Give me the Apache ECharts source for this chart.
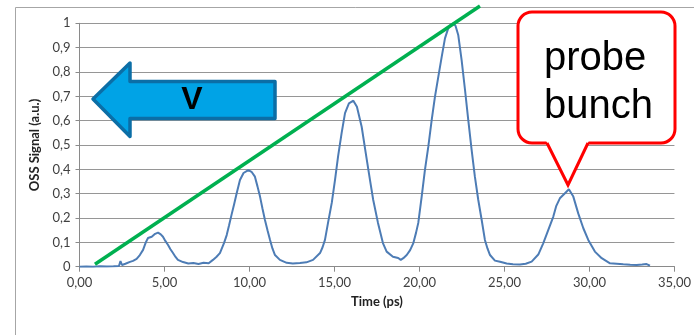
<!DOCTYPE html>
<html>
<head>
<meta charset="utf-8">
<script src="https://cdn.jsdelivr.net/npm/echarts@6/dist/echarts.min.js"></script>
<style>
  html, body { margin: 0; padding: 0; background: #fff; }
  #chart { width: 694px; height: 335px; }
</style>
</head>
<body>
<div id="chart"></div>
<script>
// OSS signal vs time
const timePs = [
  0.00, 0.40, 0.80, 1.20, 1.60, 2.00, 2.32, 2.41, 2.50, 2.70, 2.97, 3.15, 3.36, 3.55, 3.74, 3.90,
  4.03, 4.25, 4.45, 4.62, 4.78, 4.91, 5.05, 5.21, 5.35, 5.50, 5.65, 5.79, 6.09, 6.40, 6.70, 7.00,
  7.30, 7.60, 7.85, 8.05, 8.26, 8.50, 8.66, 8.80, 8.95, 9.10, 9.25, 9.44, 9.65, 9.93, 10.12, 10.32,
  10.47, 10.62, 10.76, 10.91, 11.06, 11.21, 11.35, 11.50, 11.79, 12.19, 12.55, 12.97, 13.35, 13.74,
  14.15, 14.30, 14.44, 14.62, 14.84, 15.03, 15.21, 15.42, 15.62, 15.85, 16.11, 16.32, 16.60, 16.84,
  17.09, 17.28, 17.56, 17.85, 18.07, 18.44, 18.75, 18.90, 19.05, 19.25, 19.45, 19.64, 19.80, 19.93,
  20.13, 20.32, 20.52, 20.72, 20.91, 21.11, 21.31, 21.50, 21.69, 21.85, 21.99, 22.12, 22.28, 22.48,
  22.68, 22.87, 23.07, 23.26, 23.46, 23.66, 23.85, 24.00, 24.15, 24.44, 24.74, 25.13, 25.50, 25.91,
  26.25, 26.60, 26.99, 27.28, 27.58, 27.87, 28.05, 28.26, 28.56, 28.79, 29.05, 29.34, 29.64, 29.93,
  30.32, 30.72, 31.21, 31.60, 31.99, 32.40, 32.78, 33.10, 33.36, 33.56
]
const ossSignal = [
  0.000, 0.001, 0.000, 0.002, 0.001, 0.002, 0.003, 0.023, 0.007, 0.012, 0.020, 0.024, 0.032, 0.048, 0.069, 0.100,
  0.118, 0.123, 0.135, 0.140, 0.133, 0.123, 0.106, 0.089, 0.072, 0.056, 0.040, 0.028, 0.019, 0.013, 0.015, 0.011,
  0.016, 0.014, 0.028, 0.040, 0.056, 0.097, 0.130, 0.170, 0.215, 0.258, 0.303, 0.356, 0.385, 0.397, 0.390, 0.370,
  0.330, 0.288, 0.240, 0.192, 0.150, 0.110, 0.075, 0.048, 0.028, 0.016, 0.013, 0.015, 0.018, 0.028,
  0.056, 0.080, 0.110, 0.180, 0.262, 0.356, 0.452, 0.549, 0.631, 0.671, 0.682, 0.657, 0.575, 0.467,
  0.356, 0.274, 0.180, 0.097, 0.062, 0.041, 0.036, 0.028, 0.035, 0.048, 0.068, 0.097, 0.140, 0.180,
  0.288, 0.397, 0.493, 0.603, 0.698, 0.781, 0.863, 0.938, 0.979, 0.995, 1.000, 0.990, 0.952, 0.849,
  0.726, 0.603, 0.479, 0.370, 0.274, 0.192, 0.110, 0.075, 0.048, 0.025, 0.020, 0.013, 0.010, 0.009,
  0.012, 0.021, 0.050, 0.096, 0.151, 0.205, 0.250, 0.281, 0.302, 0.318, 0.288, 0.219, 0.158, 0.110,
  0.062, 0.035, 0.014, 0.012, 0.010, 0.008, 0.007, 0.009, 0.011, 0.004
]
// green envelope line
const trendTime = [0.91, 23.56]
const trendSignal = [0.01, 1.071]

const yTickLabels = ['0', '0,1', '0,2', '0,3', '0,4', '0,5', '0,6', '0,7', '0,8', '0,9', '1']
const xTickLabels = ['0,00', '5,00', '10,00', '15,00', '20,00', '25,00', '30,00', '35,00']

const chart = echarts.init(document.getElementById('chart'))

const labelFont = { fontFamily: 'Lato', fontSize: 13, color: '#404040' }

chart.setOption({
  animation: false,
  grid: { left: 79.5, right: 19.5, top: 23.3, bottom: 68.3 },
  xAxis: {
    type: 'value',
    min: 0,
    max: 35,
    interval: 5,
    name: 'Time (ps)',
    nameLocation: 'middle',
    nameGap: 29,
    nameTextStyle: { fontFamily: 'Lato', fontSize: 13, fontWeight: 'bold', color: '#222' },
    axisLine: { show: true, lineStyle: { color: '#8a8a8a', width: 1 } },
    axisTick: { show: true, length: 5, lineStyle: { color: '#8a8a8a' } },
    axisLabel: Object.assign({ margin: 10, formatter: v => xTickLabels[Math.round(v / 5)] }, labelFont),
    splitLine: { show: false }
  },
  yAxis: {
    type: 'value',
    min: 0,
    max: 1,
    interval: 0.1,
    name: 'OSS Signal (a.u.)',
    nameLocation: 'middle',
    nameGap: 38,
    nameTextStyle: { fontFamily: 'Lato', fontSize: 13, fontWeight: 'bold', color: '#222' },
    axisLine: { show: true, lineStyle: { color: '#8a8a8a', width: 1 } },
    axisTick: { show: true, length: 4, lineStyle: { color: '#8a8a8a' } },
    axisLabel: Object.assign({ margin: 9, formatter: v => yTickLabels[Math.round(v * 10)] }, labelFont),
    splitLine: { show: true, lineStyle: { color: '#969696', width: 1 } }
  },
  series: [
    {
      name: 'OSS',
      type: 'line',
      data: timePs.map((t, i) => [t, ossSignal[i]]),
      showSymbol: false,
      lineStyle: { color: '#4d7cb5', width: 2 },
      z: 3
    },
    {
      name: 'trend',
      type: 'line',
      clip: false,
      data: trendTime.map((t, i) => [t, trendSignal[i]]),
      showSymbol: false,
      lineStyle: { color: '#00b050', width: 3.5 },
      z: 4
    }
  ],
  graphic: [
    // chart frame
    {
      type: 'rect',
      shape: { x: 15.5, y: 7.5, width: 700, height: 340 },
      style: { fill: 'none', stroke: '#a6a6a6', lineWidth: 1 },
      z: 0
    },
    // left arrow "V"
    {
      type: 'polygon',
      shape: {
        points: [[93, 99], [130, 63], [130, 81.5], [275, 81.5], [275, 118.5], [130, 118.5], [130, 136.5]]
      },
      style: { fill: '#00a3e6', stroke: '#0b6ea6', lineWidth: 3.5, lineJoin: 'round' },
      z: 10
    },
    {
      type: 'text',
      style: {
        x: 192, y: 100, text: 'V', textAlign: 'center', textVerticalAlign: 'middle',
        font: 'bold 32px "Liberation Sans", Arial', fill: '#000'
      },
      z: 11
    },
    // callout box
    {
      type: 'rect',
      shape: { x: 518, y: 12, width: 157, height: 131, r: 14 },
      style: { fill: '#fff', stroke: '#ff0000', lineWidth: 3 },
      z: 10
    },
    {
      type: 'polygon',
      shape: { points: [[546, 140.5], [568, 185], [589, 140.5]] },
      style: { fill: '#fff' },
      z: 11
    },
    {
      type: 'polyline',
      shape: { points: [[547, 143], [568, 185], [588, 143]] },
      style: { fill: null, stroke: '#ff0000', lineWidth: 3, lineJoin: 'miter' },
      z: 12
    },
    {
      type: 'text',
      style: {
        x: 544, y: 59, text: 'probe', textAlign: 'left', textVerticalAlign: 'middle',
        font: '40px "Liberation Sans", Arial', fill: '#000'
      },
      z: 13
    },
    {
      type: 'text',
      style: {
        x: 544, y: 107, text: 'bunch', textAlign: 'left', textVerticalAlign: 'middle',
        font: '40px "Liberation Sans", Arial', fill: '#000'
      },
      z: 13
    }
  ]
})
</script>
</body>
</html>
